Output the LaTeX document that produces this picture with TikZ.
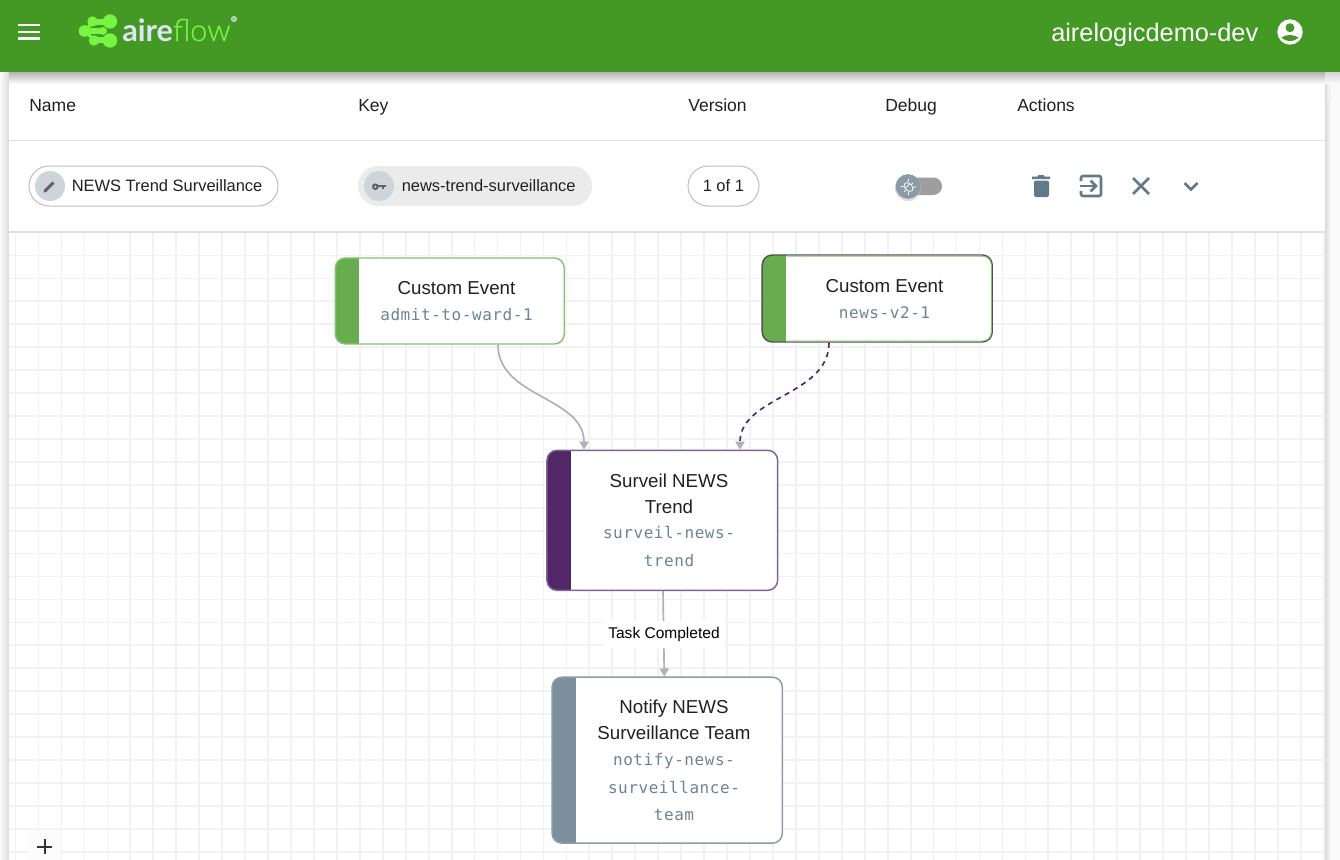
\documentclass[tikz,border=0pt]{standalone}
\usepackage{fontspec}
\usetikzlibrary{arrows.meta}
\setmainfont{Liberation Sans}
\newfontfamily\codefont[LetterSpace=3.5]{DejaVu Sans Mono}
\newfontfamily\airefont{Lato}[Scale=1]
\newfontfamily\flowfont{Lato}[UprightFont={* Light},FakeBold=0.5]
\newcommand{\codetxt}[1]{{\codefont\fontsize{12}{19.5}\selectfont\textcolor{codec}{#1}}}
\def\px{0.75pt}
\definecolor{headgreen}{HTML}{439924}
\definecolor{gridc}{HTML}{F2F2F2}
\definecolor{linec}{HTML}{E0E0E0}
\definecolor{pillb}{HTML}{BDBDBD}
\definecolor{avatar}{HTML}{CED4D9}
\definecolor{iconc}{HTML}{62798A}
\definecolor{inkc}{HTML}{212121}
\definecolor{codec}{HTML}{6D8496}
\definecolor{edgec}{HTML}{B1B1B7}
\definecolor{evgreen}{HTML}{67AD4F}
\definecolor{evedge}{HTML}{88C173}
\definecolor{purp}{HTML}{512768}
\definecolor{purpedge}{HTML}{80639A}
\definecolor{slate}{HTML}{7D909E}
\definecolor{slateedge}{HTML}{8C9CA8}
\definecolor{logog}{HTML}{76F542}
\definecolor{logow}{HTML}{DFE5F5}
\tikzset{
  uitext/.style={anchor=base west,inner sep=0pt,text=inkc,font=\fontsize{13.15}{16}\selectfont},
  pilltext/.style={anchor=base west,inner sep=0pt,text=inkc,font=\fontsize{12.35}{15}\selectfont},
  flowbox/.style={draw=#1,line width=1.1pt,fill=white,rounded corners=7.5pt,inner sep=0pt},
  strip/.style={path picture={\fill[#1,sharp corners] (path picture bounding box.north west) rectangle ([xshift=18pt]path picture bounding box.south west);}},
  flowtext/.style={align=center,inner sep=0pt,text=inkc,font=\fontsize{14.05}{19.5}\selectfont},
  flowedge/.style={draw=edgec,line width=1.25pt,-{Triangle[length=6pt,width=7pt,color=edgec]}},
  pill/.style={draw=pillb,line width=.75pt,fill=white,rounded corners=15pt,inner sep=0pt},
  avatarc/.style={circle,fill=avatar,minimum size=22.5pt,inner sep=0pt},
  iconline/.style={draw=iconc,line width=1.9pt},
}
\begin{document}
\begin{tikzpicture}[x=0.75pt,y=-0.75pt]
\useasboundingbox (0,0) rectangle (1340,860);
\begin{scope}
\clip (0,0) rectangle (1340,860);
% page and card
\fill[white!98!black] (0,0) rectangle (1340,860);
\shade[left color=white!98!black,right color=black!14] (0,72) rectangle (9,860);
\shade[left color=black!14,right color=white!98!black] (1325,72) rectangle (1331,860);
\fill[white] (9,72) rectangle (1325,860);
\shade[top color=black!30,bottom color=white] (9,72) rectangle (1325,84);
\shade[top color=black!16,bottom color=white!98!black] (1325,72) rectangle (1340,84);
\shade[left color=black!14,right color=white!98!black] (1325,84) rectangle (1329,100);
% grid
\foreach \k in {0,...,57}{\draw[gridc,line width=1.3pt] ({15.6+22.95*\k},232) -- ({15.6+22.95*\k},860);}
\foreach \k in {0,...,26}{\draw[gridc,line width=1.3pt] (9,{255.5+22.93*\k}) -- (1325,{255.5+22.93*\k});}
\draw[linec,line width=.9pt] (9,140.5) -- (1325,140.5);
\draw[linec,line width=.9pt] (9,232) -- (1325,232);
% header
\fill[headgreen] (0,0) rectangle (1340,72);
\draw[white,line width=1.9pt] (18,25) -- (40,25) (18,32) -- (40,32) (18,38.5) -- (40,38.5);
% logo
\begin{scope}[logog]
\draw[line width=4.5pt,line cap=round] (92,22) -- (110,22);
\draw[line width=4.5pt,line cap=round] (94,40) -- (110,40);
\draw[line width=4pt,line cap=round] (84,31) -- (103,31);
\draw[line width=2.4pt] (92,22) .. controls (90,26) and (88,27) .. (84,31);
\draw[line width=2.4pt] (94,40) .. controls (91,36) and (88,35) .. (84,31);
\fill (110,21.5) circle (7.2);
\fill (110,40.5) circle (7.2);
\fill (92.5,21.5) circle (5.2);
\fill (94,40.5) circle (5.2);
\fill (84.5,31) circle (5.8);
\fill (103,31) circle (4);
\end{scope}
\node[anchor=base west,inner sep=0pt,font=\fontsize{23}{26}\selectfont] (logotext) at (122,41) {\textcolor{logow}{\airefont\bfseries aire}\textcolor{logog}{\flowfont flow}};
\node[circle,draw=logow!80!headgreen,line width=.6pt,fill=logow!60!headgreen,minimum size=4pt,inner sep=0pt] (regmark) at (234,19) {};
\node[anchor=base west,inner sep=0pt,text=white,font=\fontsize{19}{24}\selectfont] (user) at (1051,41) {airelogicdemo-dev};
\fill[white] (1290,32) circle (12.7);
\fill[headgreen] (1290,27.7) circle (4.5);
\fill[headgreen] (1281.5,37.6) .. controls (1285,34.2) and (1295,34.2) .. (1298.5,37.6) .. controls (1294,42.3) and (1286,42.3) .. cycle;
% column heads
\node[uitext] (hname) at (29,111) {Name};
\node[uitext] (hkey) at (358,111) {Key};
\node[uitext] (hversion) at (688,111) {Version};
\node[uitext] (hdebug) at (885,111) {Debug};
\node[uitext] (hactions) at (1017,111) {Actions};
% pills
\draw[pill] (29,166) rectangle (278,206);
\node[avatarc] (pencilc) at (50,186) {};
\draw[draw=black!62,line width=2.2pt] (45,191) -- (53.5,182.5);
\fill[black!62] (43.8,192.4) -- (44.2,189) -- (47,191.9) -- cycle;
\node[pilltext] (pillname) at (71.5,191) {NEWS Trend Surveillance};
\fill[black!8,rounded corners=15pt] (358,166) rectangle (592,206);
\node[avatarc] (keyc) at (379,186) {};
\draw[black!62,line width=1.5pt] (375.3,186.7) circle (2.3);
\draw[black!62,line width=1.8pt] (377.5,186.2) -- (386,186.2) (383,186.2) -- (383,189.2);
\node[pilltext] (pillkey) at (401.5,191) {news-trend-surveillance};
\draw[pill] (688,166) rectangle (759,206);
\node[pilltext] (pillver) at (702.5,191) {1 of 1};
% debug switch
\fill[black!38,rounded corners=6.5pt] (907,177.5) rectangle (942,195);
\fill[black!25,opacity=.5] (908,188) circle (13.2);
\node[circle,fill=slate!90!white,minimum size=18.5pt,inner sep=0pt] (bugknob) at (908,186.5) {};
\begin{scope}[shift={(908,186.5)},rotate=45,white,line width=.55pt]
\draw (0,0.8) ellipse (3.6 and 5.2);
\draw (-3.5,-0.6) -- (3.5,-0.6) (-2.8,-3) -- (-5.8,-5) (2.8,-3) -- (5.8,-5) (-3.6,1) -- (-6.4,1) (3.6,1) -- (6.4,1) (-3,4) -- (-5.6,6.2) (3,4) -- (5.6,6.2);
\end{scope}
% action icons
\fill[iconc] (1032,176.5) -- (1037.5,176.5) -- (1038.5,175) -- (1043.5,175) -- (1044.5,176.5) -- (1050,176.5) -- (1050,179) -- (1032,179) -- cycle;
\fill[iconc,rounded corners=1.5pt] (1034,180.5) rectangle (1049,197);
\draw[iconline,rounded corners=1.5pt] (1081,181) -- (1081,176) -- (1101,176) -- (1101,196) -- (1081,196) -- (1081,191);
\draw[iconline] (1080,186) -- (1095,186);
\draw[iconline] (1090.5,180.5) -- (1096,186) -- (1090.5,191.5);
\draw[iconline] (1133,178) -- (1149,194) (1149,178) -- (1133,194);
\draw[iconline] (1184.5,183) -- (1191,189.5) -- (1197.5,183);
\end{scope}
% boxes and connectors
\node[flowbox=evedge,strip=evgreen,minimum width=229*\px,minimum height=86*\px] (a) at (449.8,301) {};
\node[flowbox=black!68,strip=evgreen,minimum width=230*\px,minimum height=87*\px] (b) at (877.2,298.5) {};
\node[flowbox=purpedge,strip=purp,minimum width=230.7*\px,minimum height=140*\px] (c) at (662.3,520.3) {};
\node[flowbox=slateedge,strip=slate,minimum width=230.3*\px,minimum height=166*\px] (d) at (667.2,760.2) {};
\draw[evedge,line width=.75pt,rounded corners=6.5pt] (787,256.2) -- (991.3,256.2) -- (991.3,341) -- (787,341);
\node[flowtext] (atext) at (456.5,301) {Custom Event\\\codetxt{admit-to-ward-1}};
\node[flowtext] (btext) at (884.5,299) {Custom Event\\\codetxt{news-v2-1}};
\node[flowtext] (ctext) at (669,520.5) {Surveil NEWS\\Trend\\[-0.75pt]\codetxt{surveil-news-}\\[1.5pt]\codetxt{trend}};
\node[flowtext] (dtext) at (674,760.5) {Notify NEWS\\Surveillance Team\\\codetxt{notify-news-}\\[1.5pt]\codetxt{surveillance-}\\[.75pt]\codetxt{team}};
\draw[flowedge] ([xshift=48.2*\px]a.south) .. controls +(0,53) and +(0,-53) .. ([xshift=-78.3*\px]c.north);
\draw[flowedge,draw=purp,dash pattern=on 3.8pt off 3.4pt] ([xshift=-48.2*\px]b.south) .. controls +(0,53) and +(0,-53) .. ([xshift=77.7*\px]c.north);
\draw[flowedge] ([xshift=.7*\px]c.south) -- ([xshift=-2.9*\px]d.north);
\node[fill=white,inner sep=0pt,minimum width=120*\px,minimum height=27*\px,text=black,font=\fontsize{11.65}{14}\selectfont] (elabel) at (664,634) {Task Completed};
% zoom button
\fill[white!99!black] (28,830) rectangle (60.5,860);
\draw[black!80,line width=1.5pt] (37,846.5) -- (52,846.5) (44.5,839) -- (44.5,854);
\end{tikzpicture}
\end{document}
